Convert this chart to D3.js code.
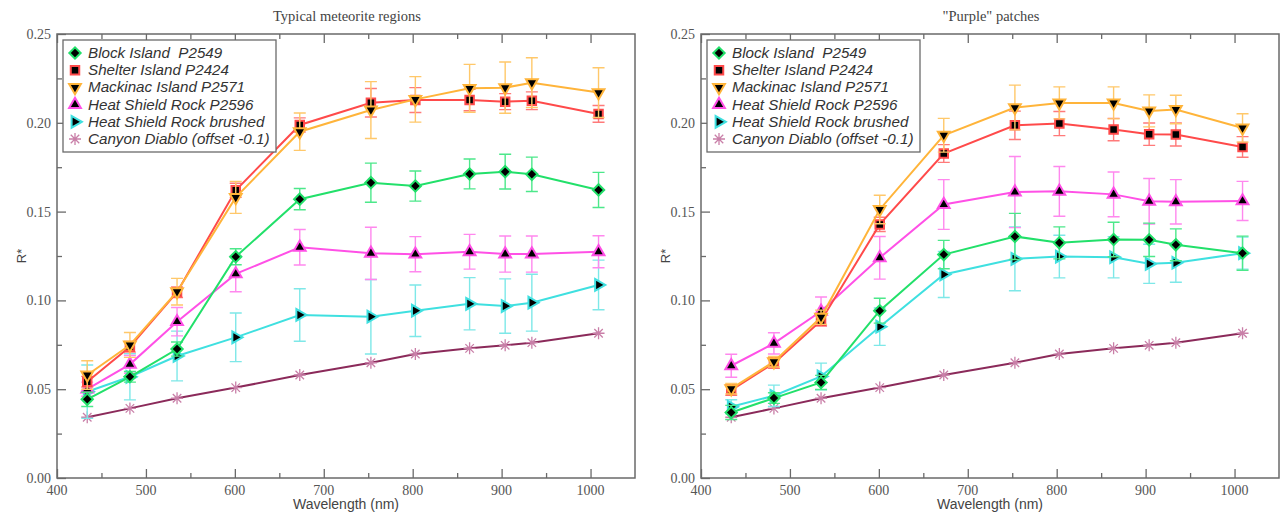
<!DOCTYPE html>
<html><head><meta charset="utf-8">
<script src="https://cdn.jsdelivr.net/npm/d3@7"></script>
<style>body{margin:0;background:#fff}svg{display:block}</style>
</head><body><svg id="chart" width="1281" height="514"></svg>
<script>
// ---------- data ----------
const wavelengths = [434, 482, 535, 601, 673, 753, 803, 864, 904, 934, 1009];
const seriesNames = ["Block Island  P2549", "Shelter Island P2424", "Mackinac Island P2571",
  "Heat Shield Rock P2596", "Heat Shield Rock brushed", "Canyon Diablo (offset -0.1)"];
const panelTitles = ["Typical meteorite regions", "\"Purple\" patches"];
const xTicks = [400, 500, 600, 700, 800, 900, 1000];
const yTicks = [0.00, 0.05, 0.10, 0.15, 0.20, 0.25];

// Left panel: typical meteorite regions
const typBlock     = [0.0443, 0.0570, 0.0726, 0.1246, 0.1570, 0.1663, 0.1644, 0.1712, 0.1725, 0.1710, 0.1622];
const typBlockErr  = [0.0040, 0.0030, 0.0040, 0.0045, 0.0060, 0.0110, 0.0085, 0.0084, 0.0098, 0.0097, 0.0099];
const typShelter   = [0.0542, 0.0739, 0.1046, 0.1620, 0.1988, 0.2113, 0.2128, 0.2128, 0.2119, 0.2124, 0.2050];
const typShelterErr= [0.0030, 0.0030, 0.0030, 0.0040, 0.0040, 0.0080, 0.0070, 0.0060, 0.0045, 0.0050, 0.0047];
const typMack      = [0.0580, 0.0749, 0.1049, 0.1580, 0.1950, 0.2072, 0.2132, 0.2194, 0.2198, 0.2226, 0.2170];
const typMackErr   = [0.0080, 0.0070, 0.0075, 0.0090, 0.0105, 0.0160, 0.0128, 0.0135, 0.0144, 0.0140, 0.0140];
const typHSR       = [0.0500, 0.0640, 0.0880, 0.1149, 0.1299, 0.1265, 0.1260, 0.1274, 0.1261, 0.1261, 0.1274];
const typHSRErr    = [0.0040, 0.0050, 0.0080, 0.0100, 0.0100, 0.0147, 0.0099, 0.0098, 0.0102, 0.0102, 0.0090];
const typBrushed   = [0.0486, 0.0570, 0.0687, 0.0792, 0.0918, 0.0908, 0.0942, 0.0981, 0.0968, 0.0987, 0.1087];
const typBrushedErr= [0.0150, 0.0130, 0.0140, 0.0137, 0.0148, 0.0210, 0.0145, 0.0147, 0.0153, 0.0160, 0.0140];
// Canyon Diablo (same in both panels, no error bars)
const canyonDiablo = [0.0342, 0.0392, 0.0449, 0.0509, 0.0580, 0.0649, 0.0698, 0.0730, 0.0747, 0.0762, 0.0815];

// Right panel: "purple" patches
const purBlock     = [0.0369, 0.0450, 0.0538, 0.0942, 0.1258, 0.1360, 0.1324, 0.1343, 0.1341, 0.1313, 0.1266];
const purBlockErr  = [0.0040, 0.0030, 0.0040, 0.0070, 0.0080, 0.0130, 0.0090, 0.0097, 0.0094, 0.0090, 0.0096];
const purShelter   = [0.0495, 0.0647, 0.0886, 0.1428, 0.1827, 0.1986, 0.1996, 0.1962, 0.1936, 0.1934, 0.1864];
const purShelterErr= [0.0030, 0.0030, 0.0030, 0.0040, 0.0050, 0.0080, 0.0068, 0.0063, 0.0063, 0.0065, 0.0058];
const purMack      = [0.0503, 0.0655, 0.0905, 0.1512, 0.1930, 0.2086, 0.2112, 0.2112, 0.2067, 0.2075, 0.1971];
const purMackErr   = [0.0030, 0.0030, 0.0040, 0.0080, 0.0095, 0.0126, 0.0090, 0.0090, 0.0090, 0.0080, 0.0080];
const purHSR       = [0.0632, 0.0758, 0.0939, 0.1240, 0.1540, 0.1610, 0.1614, 0.1597, 0.1558, 0.1555, 0.1560];
const purHSRErr    = [0.0065, 0.0060, 0.0080, 0.0120, 0.0140, 0.0200, 0.0140, 0.0126, 0.0128, 0.0125, 0.0110];
const purBrushed   = [0.0401, 0.0463, 0.0572, 0.0852, 0.1146, 0.1234, 0.1247, 0.1243, 0.1206, 0.1212, 0.1266];
const purBrushedErr= [0.0040, 0.0060, 0.0075, 0.0105, 0.0130, 0.0180, 0.0120, 0.0116, 0.0110, 0.0110, 0.0090];

// ---------- styles ----------
const lineColors  = ["#22e06a", "#ff4a4a", "#ffb43a", "#ff50e6", "#3fe0e0", "#8b2a5a"];
const errColors   = ["#4ce88a", "#ff7a7a", "#ffc86a", "#ff88ee", "#7ee8e8", null];
const symbolKinds = ["diamond", "square", "down", "up", "right", "asterisk"];

const svg = d3.select("#chart");

function symbolPath(kind) {
  switch (kind) {
    case "diamond": return d3.symbol(d3.symbolSquare, 64)();
    case "square": return d3.symbol(d3.symbolSquare, 72)();
    default: return d3.symbol(d3.symbolTriangle, 60)();
  }
}
function symbolRotate(kind) {
  return kind === "down" ? 180 : kind === "right" ? 90 : kind === "diamond" ? 45 : 0;
}
function drawSymbol(g, kind, color, x, y) {
  if (kind === "asterisk") {
    const r = 6, d = r * 0.707;
    g.append("path")
      .attr("d", `M${x - r},${y}L${x + r},${y}M${x},${y - r}L${x},${y + r}M${x - d},${y - d}L${x + d},${y + d}M${x - d},${y + d}L${x + d},${y - d}`)
      .attr("stroke", "#c97fa8").attr("stroke-width", 1.3).attr("fill", "none");
    return;
  }
  g.append("path")
    .attr("d", symbolPath(kind))
    .attr("transform", `translate(${x},${y}) rotate(${symbolRotate(kind)})`)
    .attr("fill", "#000").attr("stroke", color).attr("stroke-width", 2);
}

function drawPanel(cfg) {
  const x = d3.scaleLinear().domain([400, 1050]).range([cfg.left, cfg.right]);
  const y = d3.scaleLinear().domain([0, 0.25]).range([cfg.bottom, cfg.top]);
  const g = svg.append("g");
  const axisColor = "#6a6a6a";

  // title
  g.append("text").attr("x", (cfg.left + cfg.right) / 2 + 1).attr("y", 21)
    .attr("text-anchor", "middle").attr("font-family", "Liberation Serif, serif")
    .attr("font-size", 14.5).attr("fill", "#444").text(cfg.title);

  // ticks (inward) via axes
  const minorX = d3.range(450, 1050, 100);
  const minorY = d3.range(0.025, 0.25, 0.05);
  const styleAxis = sel => { sel.select(".domain").remove(); sel.selectAll("line").attr("stroke", axisColor).attr("stroke-width", 1.3); };
  g.append("g").attr("transform", `translate(0,${cfg.bottom})`).call(d3.axisBottom(x).tickValues(xTicks).tickSize(-9).tickFormat("")).call(styleAxis);
  g.append("g").attr("transform", `translate(0,${cfg.top})`).call(d3.axisTop(x).tickValues(xTicks).tickSize(-9).tickFormat("")).call(styleAxis);
  g.append("g").attr("transform", `translate(${cfg.left},0)`).call(d3.axisLeft(y).tickValues(yTicks).tickSize(-9).tickFormat("")).call(styleAxis);
  g.append("g").attr("transform", `translate(0,${cfg.bottom})`).call(d3.axisBottom(x).tickValues(minorX).tickSize(-5).tickFormat("")).call(styleAxis);
  g.append("g").attr("transform", `translate(0,${cfg.top})`).call(d3.axisTop(x).tickValues(minorX).tickSize(-5).tickFormat("")).call(styleAxis);
  g.append("g").attr("transform", `translate(${cfg.left},0)`).call(d3.axisLeft(y).tickValues(minorY).tickSize(-5).tickFormat("")).call(styleAxis);

  // tick labels
  g.selectAll(".xl").data(xTicks).join("text")
    .attr("x", d => x(d)).attr("y", cfg.bottom + 17).attr("text-anchor", "middle")
    .attr("font-family", "Liberation Serif, serif").attr("font-size", 14).attr("fill", "#555").text(d => d);
  g.selectAll(".yl").data(yTicks).join("text")
    .attr("x", cfg.left - 6).attr("y", d => y(d) + 5).attr("text-anchor", "end")
    .attr("font-family", "Liberation Serif, serif").attr("font-size", 14).attr("fill", "#555").text(d => d.toFixed(2));

  // axis labels
  g.append("text").attr("x", (cfg.left + cfg.right) / 2).attr("y", cfg.bottom + 31)
    .attr("text-anchor", "middle").attr("font-family", "Liberation Sans, Arial, sans-serif")
    .attr("font-size", 14).attr("fill", "#444").text("Wavelength (nm)");
  g.append("text").attr("transform", `translate(${cfg.left - 31},${(cfg.top + cfg.bottom) / 2}) rotate(-90)`)
    .attr("text-anchor", "middle").attr("font-family", "Liberation Sans, Arial, sans-serif")
    .attr("font-size", 13).attr("fill", "#444").text("R*");

  // series
  const line = d3.line().x((d, i) => x(wavelengths[i])).y(d => y(d));
  const order = [5, 4, 3, 0, 1, 2];
  order.forEach(si => {
    const vals = cfg.series[si], errs = cfg.errors[si];
    const sg = g.append("g");
    if (errs) {
      vals.forEach((v, i) => {
        const cx = x(wavelengths[i]), y1 = y(v - errs[i]), y2 = y(v + errs[i]);
        sg.append("path").attr("d", `M${cx},${y1}L${cx},${y2}M${cx - 6},${y1}L${cx + 6},${y1}M${cx - 6},${y2}L${cx + 6},${y2}`)
          .attr("stroke", errColors[si]).attr("stroke-width", 1.4).attr("fill", "none");
      });
    }
    sg.append("path").datum(vals).attr("d", line).attr("fill", "none")
      .attr("stroke", lineColors[si]).attr("stroke-width", 2);
    vals.forEach((v, i) => drawSymbol(sg, symbolKinds[si], lineColors[si], x(wavelengths[i]), y(v)));
  });

  // frame
  g.append("rect").attr("x", cfg.left).attr("y", cfg.top).attr("width", cfg.right - cfg.left)
    .attr("height", cfg.bottom - cfg.top).attr("fill", "none").attr("stroke", axisColor).attr("stroke-width", 1.5);

  // legend
  const lx = cfg.left + 6, ly = cfg.top + 6, lw = 213, lh = 112;
  const lg = g.append("g");
  lg.append("rect").attr("x", lx).attr("y", ly).attr("width", lw).attr("height", lh)
    .attr("fill", "#fff").attr("stroke", axisColor).attr("stroke-width", 1.3);
  seriesNames.forEach((name, i) => {
    const ry = ly + 13 + i * 17.2;
    drawSymbol(lg, symbolKinds[i], lineColors[i], lx + 12, ry);
    lg.append("text").attr("x", lx + 25).attr("y", ry + 5).attr("font-family", "Liberation Sans, Arial, sans-serif")
      .attr("font-style", "italic").attr("font-size", 15.2).attr("fill", "#333")
      .style("white-space", "pre").text(name);
  });
}

drawPanel({
  left: 57, right: 635, top: 34, bottom: 478, title: panelTitles[0],
  series: [typBlock, typShelter, typMack, typHSR, typBrushed, canyonDiablo],
  errors: [typBlockErr, typShelterErr, typMackErr, typHSRErr, typBrushedErr, null]
});
drawPanel({
  left: 701, right: 1279, top: 34, bottom: 478, title: panelTitles[1],
  series: [purBlock, purShelter, purMack, purHSR, purBrushed, canyonDiablo],
  errors: [purBlockErr, purShelterErr, purMackErr, purHSRErr, purBrushedErr, null]
});
</script></body></html>
